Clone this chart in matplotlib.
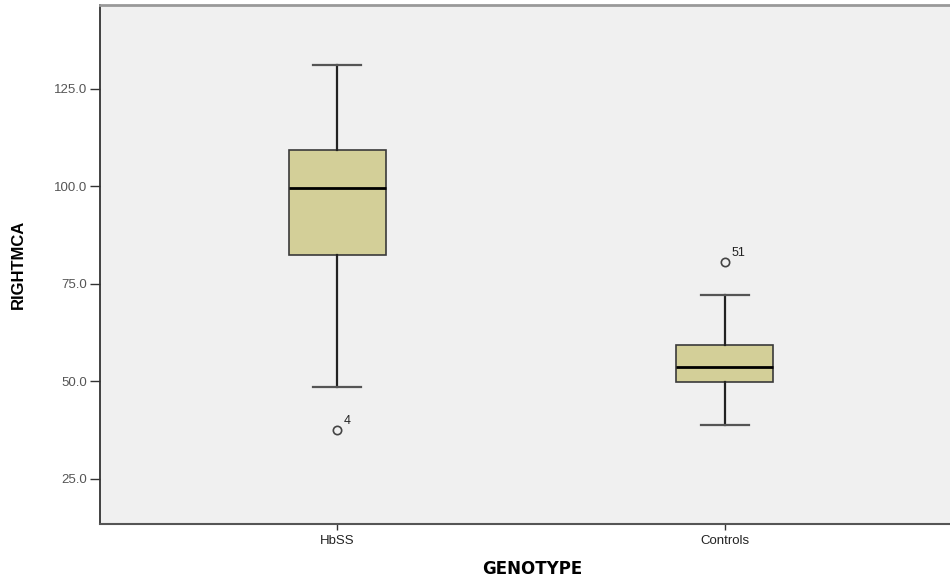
import matplotlib
matplotlib.use("Agg")
import matplotlib.pyplot as plt
from matplotlib.ticker import FormatStrFormatter

# box plot summary
groups = ["HbSS", "Controls"]
whislo = [48.6, 38.8]
q1 = [82.5, 49.7]
med = [99.6, 53.6]
q3 = [109.2, 59.4]
whishi = [131.1, 72.0]
outliers = [[37.5], [80.7]]
outlier_ids = ["4", "51"]
yticks = [25, 50, 75, 100, 125]

stats = []
for i in range(len(groups)):
    stats.append(dict(label=groups[i], whislo=whislo[i], q1=q1[i], med=med[i],
                      q3=q3[i], whishi=whishi[i], fliers=outliers[i]))

fig = plt.figure(figsize=(9.5, 5.8), dpi=100)
ax = fig.add_axes([100/950, 1 - 524/580, 1 - 100/950, (524 - 5)/580])
ax.set_facecolor("#f0f0f0")

ax.bxp(stats, positions=[1, 2], widths=0.25, capwidths=0.126, patch_artist=True,
       boxprops=dict(facecolor="#d3cf98", edgecolor="#3a3a3a", linewidth=1.2),
       medianprops=dict(color="black", linewidth=2),
       whiskerprops=dict(color="#222222", linewidth=1.6),
       capprops=dict(color="#555555", linewidth=1.6),
       flierprops=dict(marker="o", markerfacecolor="none", markeredgecolor="#444444",
                       markersize=6, markeredgewidth=1.2))

for i in range(len(groups)):
    for v in outliers[i]:
        ax.annotate(outlier_ids[i], (i + 1, v), xytext=(5, 4), textcoords="offset points",
                    fontsize=9, color="#222222", family="Liberation Sans")

ax.set_xlim(0.389, 2.58)
ax.set_ylim(13.4, 146.5)
ax.set_yticks(yticks)
ax.yaxis.set_major_formatter(FormatStrFormatter("%.1f"))
ax.tick_params(axis="y", direction="out", length=7, width=1, colors="#333333",
               labelsize=9.5, labelcolor="#555555", pad=2)
ax.tick_params(axis="x", direction="out", length=4, width=1, colors="#333333",
               labelsize=9.5, labelcolor="#222222", pad=4)
for lab in ax.get_xticklabels() + ax.get_yticklabels():
    lab.set_family("Liberation Sans")

ax.spines["left"].set_color("#333333")
ax.spines["left"].set_linewidth(1.3)
ax.spines["bottom"].set_color("#555555")
ax.spines["bottom"].set_linewidth(1.5)
ax.spines["top"].set_color("#999999")
ax.spines["top"].set_linewidth(2)
ax.spines["right"].set_visible(False)

ax.set_ylabel("RIGHTMCA", fontsize=12, fontweight="bold",
              family="Liberation Sans", va="center")
ax.yaxis.set_label_coords(-82/850, 0.5)
ax.set_xlabel("GENOTYPE", fontsize=12, fontweight="bold", family="DejaVu Sans",
              va="center")
ax.xaxis.set_label_coords((532 - 100)/850, -45/519)

fig.savefig("out.png", dpi=100)
